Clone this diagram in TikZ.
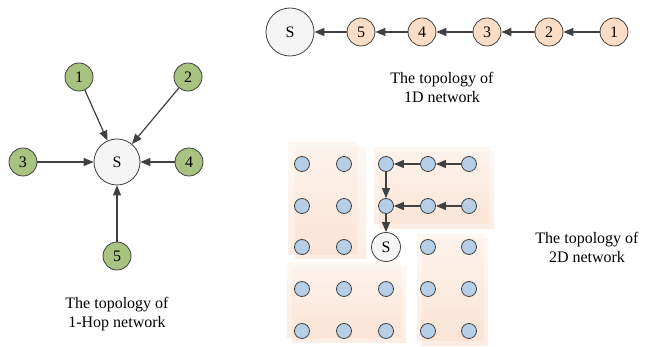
\documentclass[tikz,border=0pt]{standalone}
\usepackage{fontspec}
\setmainfont{Liberation Serif}
\usetikzlibrary{arrows.meta}

\definecolor{hopgreen}{HTML}{A8C280}
\definecolor{chainpeach}{HTML}{FADDC6}
\definecolor{gridblue}{HTML}{B7CFE6}
\definecolor{patchpeach}{HTML}{F9DCC8}
\definecolor{edgegray}{HTML}{404040}
\tikzstyle{sink}=[circle, draw=edgegray, line width=0.8pt, fill=black!4, inner sep=0]
\tikzstyle{hop}=[circle, minimum size=28pt, inner sep=0, draw=edgegray, line width=0.8pt, fill=hopgreen]
\tikzstyle{chain}=[circle, minimum size=28pt, inner sep=0, draw=edgegray, line width=0.8pt, fill=chainpeach]
\tikzstyle{site}=[circle, minimum size=15pt, inner sep=0, draw=edgegray, line width=0.8pt, fill=gridblue]
\tikzstyle{patch}=[top color=patchpeach!45, bottom color=patchpeach, fill opacity=0.5, draw=none]
\tikzstyle{caption}=[align=center, font=\fontsize{16}{19}\selectfont]
\tikzstyle{flow}=[-{Triangle[length=10pt,width=8pt]}, draw=edgegray, line width=1.2pt]

\begin{document}
\begin{tikzpicture}[x=1pt, y=-1pt, font=\fontsize{16}{19}\selectfont]
\useasboundingbox (0, 0) rectangle (649, 347);

% 1-hop
\node [sink, minimum size=46pt] (hs) at (117, 162) {S};
\node [hop] (h1) at (79, 77) {1};
\node [hop] (h2) at (188, 77) {2};
\node [hop] (h3) at (23, 162) {3};
\node [hop] (h4) at (189, 162) {4};
\node [hop] (h5) at (117, 256) {5};

\draw [flow] (h1) to (hs);
\draw [flow] (h2) to (hs);
\draw [flow] (h3) to (hs);
\draw [flow] (h4) to (hs);
\draw [flow] (h5) to (hs);

\node [caption] (hcap) at (117, 314) {The topology of\\1-Hop network};

% 1D
\node [sink, minimum size=48pt] (cs) at (290, 32) {S};
\node [chain] (c5) at (361, 32) {5};
\node [chain] (c4) at (422, 32) {4};
\node [chain] (c3) at (487, 32) {3};
\node [chain] (c2) at (549, 32) {2};
\node [chain] (c1) at (614, 32) {1};

\draw [flow] (c1) to (c2);
\draw [flow] (c2) to (c3);
\draw [flow] (c3) to (c4);
\draw [flow] (c4) to (c5);
\draw [flow] (c5) to (cs);

\node [caption] (ccap) at (442, 87) {The topology of\\1D network};

% 2D
\shade [patch] (288, 143) rectangle (357, 255);
\shade [patch] (295, 148) rectangle (366, 259);
\shade [patch] (374, 148) rectangle (489, 224);
\shade [patch] (379, 152) rectangle (494, 229);
\shade [patch] (287, 263) rectangle (401, 338);
\shade [patch] (292, 268) rectangle (406, 343);
\shade [patch] (417, 235) rectangle (484, 341);
\shade [patch] (422, 239) rectangle (488, 346);

\node [site] (g11) at (302, 164) {};
\node [site] (g21) at (344, 164) {};
\node [site] (g12) at (302, 206) {};
\node [site] (g22) at (344, 206) {};
\node [site] (g13) at (302, 247) {};
\node [site] (g23) at (344, 247) {};

\node [site] (g31) at (386, 164) {};
\node [site] (g41) at (428, 164) {};
\node [site] (g51) at (469, 164) {};
\node [site] (g32) at (386, 206) {};
\node [site] (g42) at (428, 206) {};
\node [site] (g52) at (469, 206) {};

\node [site] (g14) at (302, 289) {};
\node [site] (g24) at (344, 289) {};
\node [site] (g34) at (386, 289) {};
\node [site] (g15) at (302, 331) {};
\node [site] (g25) at (344, 331) {};
\node [site] (g35) at (386, 331) {};

\node [site] (g43) at (428, 247) {};
\node [site] (g53) at (469, 247) {};
\node [site] (g44) at (428, 289) {};
\node [site] (g54) at (469, 289) {};
\node [site] (g45) at (428, 331) {};
\node [site] (g55) at (469, 331) {};

\node [sink, minimum size=29pt] (gs) at (386, 247) {S};

\draw [flow] (g51) to (g41);
\draw [flow] (g41) to (g31);
\draw [flow] (g31) to (g32);
\draw [flow] (g52) to (g42);
\draw [flow] (g42) to (g32);
\draw [flow] (g32) to (gs);

\node [caption] (gcap) at (587, 247) {The topology of\\2D network};

\end{tikzpicture}
\end{document}
